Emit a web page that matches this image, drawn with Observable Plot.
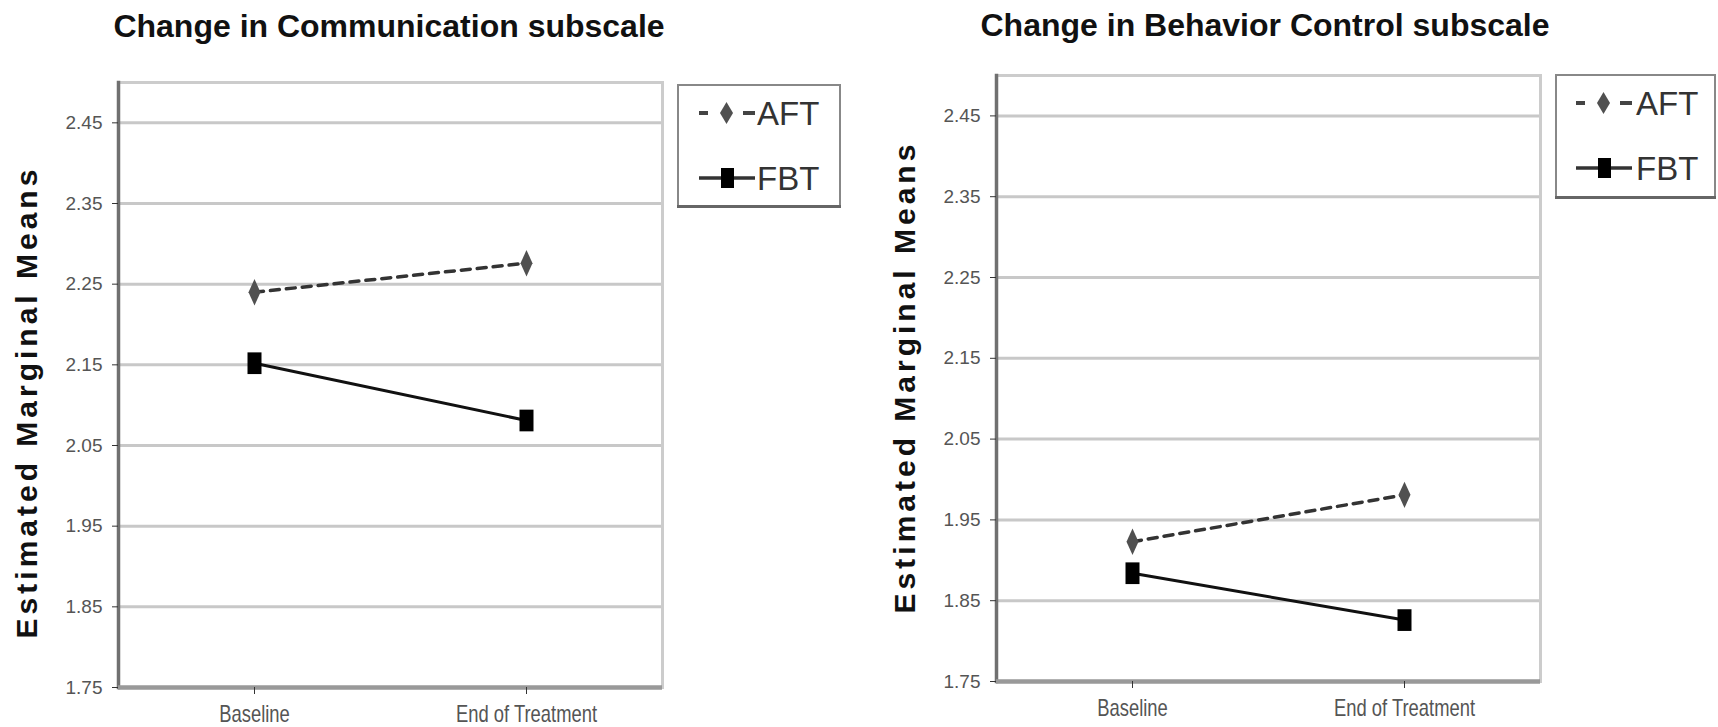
<!DOCTYPE html>
<html>
<head>
<meta charset="utf-8">
<script src="https://cdn.jsdelivr.net/npm/d3@7"></script>
<script src="https://cdn.jsdelivr.net/npm/@observablehq/plot@0.6"></script>
<style>
  body { margin: 0; background: #fff; }
  #wrap { position: relative; width: 1718px; height: 727px; overflow: hidden; background: #fff; }
  .panel { position: absolute; top: 0; }
  .panel svg { max-width: none; }
  #overlay { position: absolute; left: 0; top: 0; pointer-events: none; }
</style>
</head>
<body>
<div id="wrap"></div>
<script>
// ---- data ----
const timepoints = ["Baseline", "End of Treatment"];
const groups = ["AFT", "FBT"];
const commAFT = [2.240, 2.276];
const commFBT = [2.152, 2.081];
const behavAFT = [1.923, 1.981];
const behavFBT = [1.884, 1.826];
const yTicks = [1.75, 1.85, 1.95, 2.05, 2.15, 2.25, 2.35, 2.45];
const yDomain = [1.75, 2.50];
const titles = ["Change in Communication subscale", "Change in Behavior Control subscale"];
const yLabel = "Estimated Marginal Means";

const FONT = "'Liberation Sans', Arial, sans-serif";

// tall marker shapes (size = PI r^2)
const tallDiamond = { draw(ctx, size) { const r = Math.sqrt(size / Math.PI);
  ctx.moveTo(0, -2.2 * r); ctx.lineTo(r, 0); ctx.lineTo(0, 2.2 * r); ctx.lineTo(-r, 0); ctx.closePath(); } };
const tallSquare = { draw(ctx, size) { const r = Math.sqrt(size / Math.PI);
  ctx.rect(-r, -1.55 * r, 2 * r, 3.1 * r); } };

function rowsFor(aftVals, fbtVals) {
  const rows = [];
  timepoints.forEach((t, i) => {
    rows.push({ time: t, group: groups[0], value: aftVals[i] });
    rows.push({ time: t, group: groups[1], value: fbtVals[i] });
  });
  return rows;
}

function panel(cfg) {
  const rows = rowsFor(cfg.aft, cfg.fbt);
  const aft = rows.filter(d => d.group === "AFT");
  const fbt = rows.filter(d => d.group === "FBT");
  const chart = Plot.plot({
    width: cfg.width, height: 727,
    marginLeft: cfg.ml, marginRight: cfg.mr, marginTop: cfg.mt, marginBottom: cfg.mb,
    style: { background: "transparent", fontFamily: FONT, overflow: "visible" },
    x: { type: "point", domain: timepoints, padding: 0.5, axis: null },
    y: { domain: yDomain, axis: null },
    marks: [
      Plot.gridY(yTicks, { stroke: "#c8c8c8", strokeOpacity: 1, strokeWidth: 3 }),
      Plot.frame({ stroke: "#cccccc", strokeWidth: 3 }),
      Plot.frame({ anchor: "left", stroke: "#707070", strokeWidth: 3.5 }),
      Plot.ruleY([yDomain[0]], { stroke: "#999999", strokeWidth: 4.5 }),
      Plot.axisY({ ticks: yTicks, tickFormat: d3.format(".2f"), tickSize: 6, tickPadding: 10,
        fontSize: 19, fill: "#555", stroke: "#333", label: null }),
      Plot.axisX({ tickSize: 7, tickPadding: 11, fontSize: 23, fill: "#555", stroke: "#333",
        label: null, ariaLabel: "x-axis tick label" }),
      Plot.line(aft, { x: "time", y: "value", stroke: "#333", strokeWidth: 3.5, strokeDasharray: "9,7" }),
      Plot.line(fbt, { x: "time", y: "value", stroke: "#111", strokeWidth: 3 }),
      Plot.dot(aft, { x: "time", y: "value", symbol: tallDiamond, r: 6, fill: "#505050", stroke: "none" }),
      Plot.dot(fbt, { x: "time", y: "value", symbol: tallSquare, r: 7, fill: "#000", stroke: "none" })
    ]
  });
  // condense the category labels horizontally, like the reference
  d3.select(chart).selectAll("text").filter(function () {
    return this.textContent === timepoints[0] || this.textContent === timepoints[1];
  }).attr("transform", function () {
    return (this.getAttribute("transform") || "") + " scale(0.8,1)";
  });
  return chart;
}

const wrap = document.getElementById("wrap");
const panels = [
  { left: 0, width: 860, ml: 118, mr: 198, mt: 82, mb: 40, aft: commAFT, fbt: commFBT },
  { left: 860, width: 858, ml: 136, mr: 178, mt: 75, mb: 46, aft: behavAFT, fbt: behavFBT }
];
panels.forEach(cfg => {
  const div = document.createElement("div");
  div.className = "panel";
  div.style.left = cfg.left + "px";
  div.style.width = cfg.width + "px";
  div.appendChild(panel(cfg));
  wrap.appendChild(div);
});

// ---- overlay: titles, axis titles, legends ----
const svg = d3.select(wrap).append("svg").attr("id", "overlay")
  .attr("width", 1718).attr("height", 727).style("font-family", FONT);

const titlePos = [{ x: 389, y: 37 }, { x: 1265, y: 36 }];
titles.forEach((t, i) => {
  svg.append("text").attr("x", titlePos[i].x).attr("y", titlePos[i].y)
    .attr("text-anchor", "middle").attr("font-size", 32).attr("font-weight", "bold")
    .attr("fill", "#111").text(t);
});

const yLabPos = [{ x: 37, y: 402 }, { x: 915, y: 377 }];
yLabPos.forEach(p => {
  svg.append("text").attr("transform", `translate(${p.x},${p.y}) rotate(-90)`)
    .attr("text-anchor", "middle").attr("font-size", 30).attr("font-weight", "bold")
    .attr("letter-spacing", "4px").attr("fill", "#111").text(yLabel);
});

function legend(L) {
  const g = svg.append("g");
  g.append("rect").attr("x", L.x + 1).attr("y", L.y + 1).attr("width", L.w - 2).attr("height", L.h - 2)
    .attr("fill", "#fff").attr("stroke", "#888").attr("stroke-width", 2);
  g.append("line").attr("x1", L.x).attr("x2", L.x + L.w).attr("y1", L.y + L.h - 1.5).attr("y2", L.y + L.h - 1.5)
    .attr("stroke", "#666").attr("stroke-width", 3);
  const s = L.sx, r1 = L.r1, r2 = L.r2;
  // AFT swatch
  g.append("line").attr("x1", s).attr("x2", s + 9).attr("y1", r1).attr("y2", r1).attr("stroke", "#444").attr("stroke-width", 4);
  g.append("line").attr("x1", s + 44).attr("x2", s + 56).attr("y1", r1).attr("y2", r1).attr("stroke", "#444").attr("stroke-width", 4);
  g.append("path").attr("d", `M${s + 27.5},${r1 - 11}L${s + 34},${r1}L${s + 27.5},${r1 + 11}L${s + 21},${r1}Z`).attr("fill", "#505050");
  // FBT swatch
  g.append("line").attr("x1", s).attr("x2", s + 56).attr("y1", r2).attr("y2", r2).attr("stroke", "#333").attr("stroke-width", 3.5);
  g.append("rect").attr("x", s + 22).attr("y", r2 - 10).attr("width", 13).attr("height", 20).attr("fill", "#000");
  [[groups[0], r1], [groups[1], r2]].forEach(([t, yy]) => {
    g.append("text").attr("x", L.tx).attr("y", yy + 12).attr("font-size", 33).attr("fill", "#333").text(t);
  });
}
legend({ x: 677, y: 84, w: 164, h: 124, r1: 113, r2: 178, sx: 699, tx: 757 });
legend({ x: 1555, y: 74, w: 161, h: 125, r1: 103, r2: 168, sx: 1576, tx: 1636 });
</script>
</body>
</html>
